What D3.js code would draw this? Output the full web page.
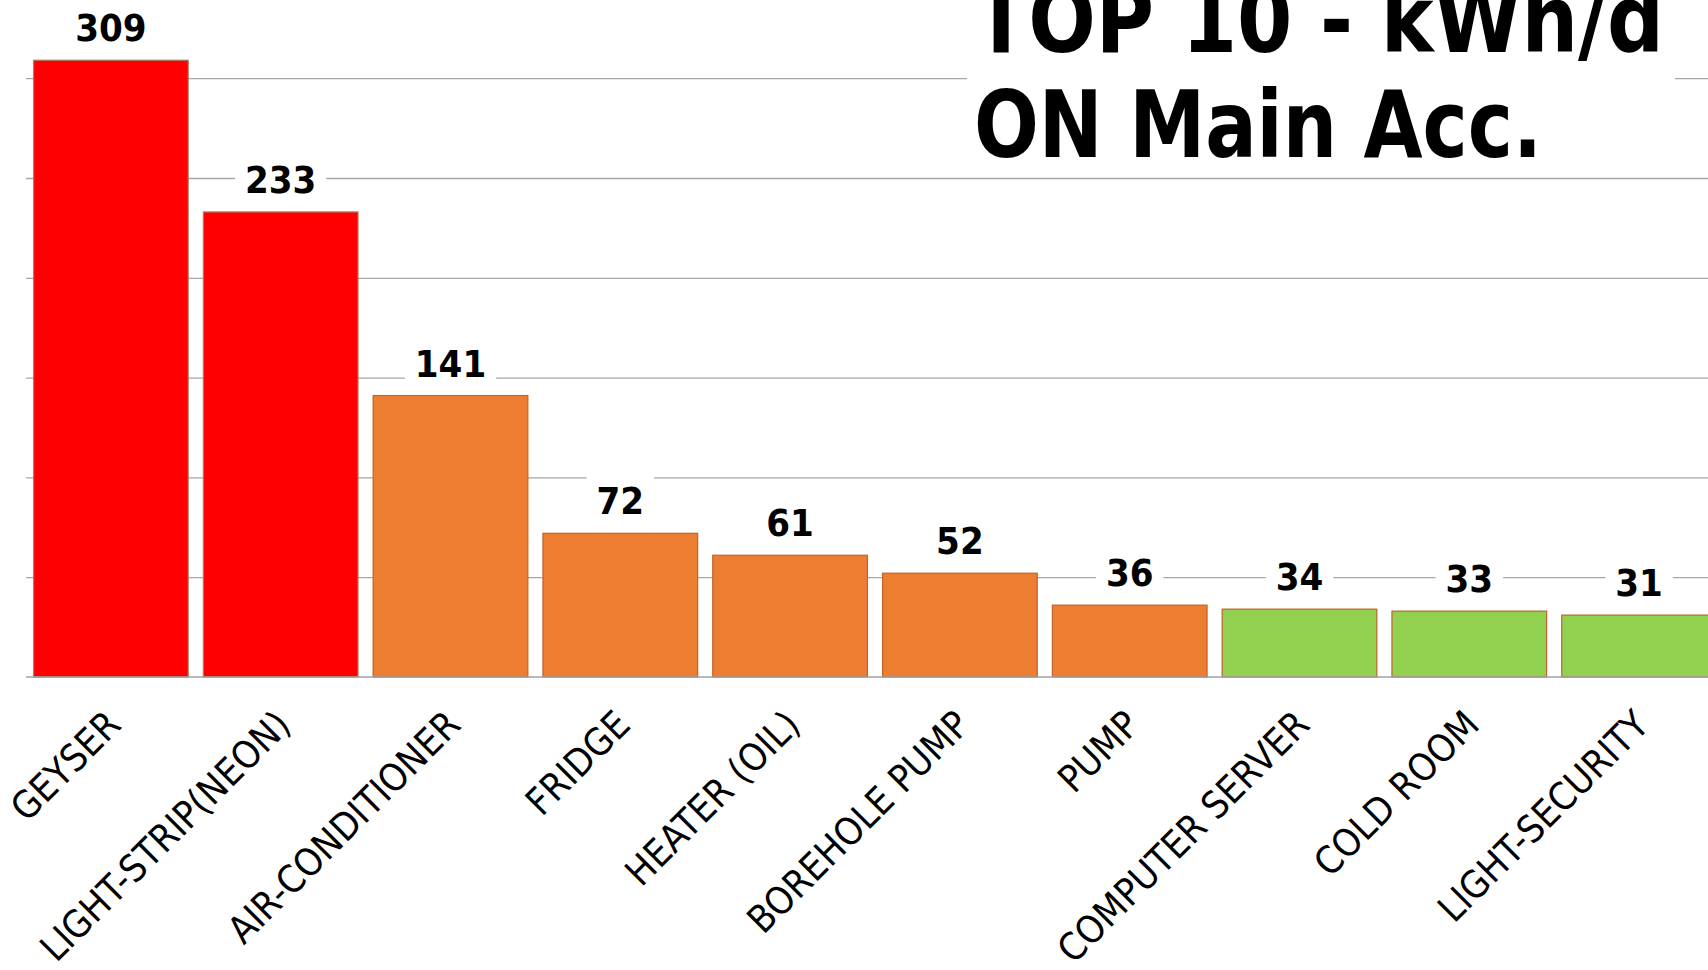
<!DOCTYPE html>
<html>
<head>
<meta charset="utf-8">
<script src="https://d3js.org/d3.v7.min.js"></script>
<style>
  html, body { margin: 0; padding: 0; background: #fff; overflow: hidden; }
  svg { display: block; }
  .cond { font-family: "DejaVu Sans Condensed", "DejaVu Sans", sans-serif; font-stretch: condensed; }
</style>
</head>
<body>
<svg id="chart"></svg>
<script>
// appliances ranked by daily use
var categories = ['GEYSER', 'LIGHT-STRIP(NEON)', 'AIR-CONDITIONER', 'FRIDGE', 'HEATER (OIL)',
  'BOREHOLE PUMP', 'PUMP', 'COMPUTER SERVER', 'COLD ROOM', 'LIGHT-SECURITY'];
var kwhPerDay = [309, 233, 141, 72, 61, 52, 36, 34, 33, 31];
var tiers = ['high', 'high', 'mid', 'mid', 'mid', 'mid', 'mid', 'low', 'low', 'low'];
var tierNames = ['high', 'mid', 'low'];
var gridTicks = [50, 100, 150, 200, 250, 300, 350];
var titleLines = ['TOP 10 - kWh/d', 'ON Main Acc.'];

var width = 1708, height = 970;
var left = 26, right = 1724, base = 677;

var svg = d3.select('#chart').attr('width', width).attr('height', height);

var x = d3.scaleBand()
    .domain(categories)
    .range([left, right])
    .paddingInner(0.089)
    .paddingOuter(0.0445);

var y = d3.scaleLinear()
    .domain([0, 350])
    .range([base, base - 350 * 1.996]);

var colour = d3.scaleOrdinal()
    .domain(tierNames)
    .range(['#ff0000', '#ed7d31', '#92d050']);

// gridlines
var grid = svg.append('g')
    .attr('transform', 'translate(' + left + ',0)')
    .call(d3.axisLeft(y).tickValues(gridTicks).tickSize(-(right - left)).tickFormat(''));
grid.select('.domain').remove();
grid.selectAll('line').attr('stroke', '#a6a6a6').attr('stroke-width', 1.3);

// bars
svg.append('g').selectAll('rect')
    .data(categories)
    .enter().append('rect')
    .attr('x', function (d) { return x(d); })
    .attr('y', function (d, i) { return y(kwhPerDay[i]); })
    .attr('width', x.bandwidth())
    .attr('height', function (d, i) { return base - y(kwhPerDay[i]); })
    .attr('fill', function (d, i) { return colour(tiers[i]); })
    .attr('stroke', function (d, i) { return tiers[i] === 'high' ? '#a98064' : '#c0622a'; })
    .attr('stroke-width', 1.2);

// x axis
var xAxis = svg.append('g')
    .attr('transform', 'translate(0,' + base + ')')
    .call(d3.axisBottom(x).tickSize(0).tickPadding(0));
xAxis.select('.domain').attr('stroke', '#a0a0a0').attr('stroke-width', 1.5)
    .attr('d', 'M' + left + ',0H' + right);
xAxis.selectAll('text')
    .attr('class', 'cond')
    .attr('font-size', 38)
    .attr('fill', '#000')
    .attr('text-anchor', 'end')
    .attr('y', 0)
    .attr('dy', 0)
    .attr('transform', 'translate(12,50) rotate(-45)');

// value labels with white boxes
var labels = svg.append('g').selectAll('g')
    .data(categories)
    .enter().append('g')
    .attr('transform', function (d, i) {
        return 'translate(' + (x(d) + x.bandwidth() / 2) + ',' + (y(kwhPerDay[i]) - 19) + ')';
    });
labels.append('text')
    .attr('class', 'cond')
    .attr('text-anchor', 'middle')
    .attr('font-size', 38)
    .attr('font-weight', 'bold')
    .text(function (d, i) { return kwhPerDay[i]; });
labels.insert('rect', 'text')
    .attr('fill', '#fff')
    .each(function () {
        var bb = this.parentNode.querySelector('text').getBBox();
        d3.select(this)
            .attr('x', bb.x - 10).attr('width', bb.width + 20)
            .attr('y', -38).attr('height', 50);
    });

// title
var title = svg.append('g');
title.append('rect')
    .attr('x', 967).attr('y', -20).attr('width', 708).attr('height', 190)
    .attr('fill', '#fff');
title.selectAll('text')
    .data(titleLines)
    .enter().append('text')
    .attr('class', 'cond')
    .attr('x', 974)
    .attr('y', function (d, i) { return 52 + i * 105; })
    .attr('font-size', 92)
    .attr('font-weight', 'bold')
    .attr('textLength', function (d, i) { return i ? 568 : 690; })
    .attr('lengthAdjust', 'spacingAndGlyphs')
    .text(function (d) { return d; });
</script>
</body>
</html>
